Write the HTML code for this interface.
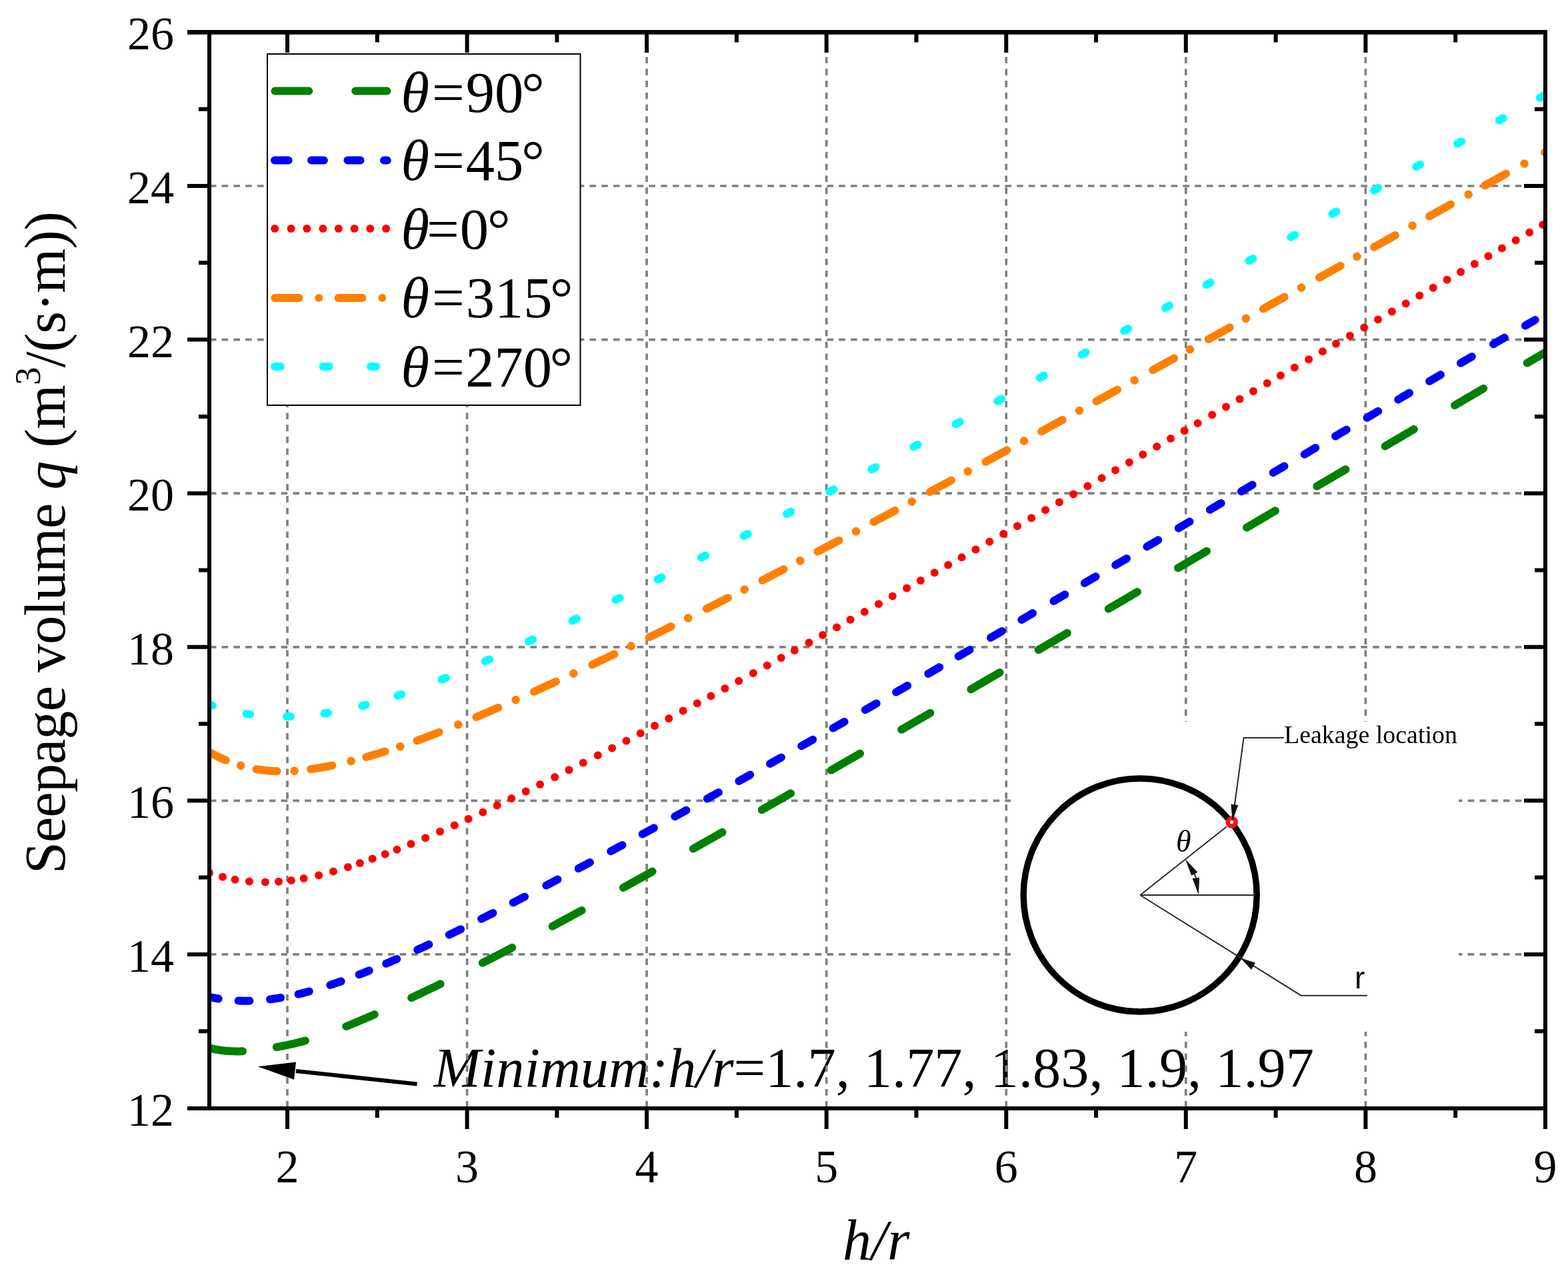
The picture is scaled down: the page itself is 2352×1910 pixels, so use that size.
<!DOCTYPE html>
<html><head><meta charset="utf-8"><title>Seepage volume vs h/r</title>
<style>html,body{margin:0;padding:0;background:#fff;}svg{display:block;}</style>
</head><body>
<svg width="2352" height="1910" viewBox="0 0 2352 1910">
<defs><clipPath id="plotclip"><rect x="314.0" y="48.4" width="2004.0" height="1614.6"/></clipPath></defs>
<rect width="2352" height="1910" fill="#fff"/>
<text x="650.5" y="1630.5" font-family="Liberation Serif, serif" font-size="84.4"><tspan font-style="italic">Minimum:h/r</tspan>=1.7, 1.77, 1.83, 1.9, 1.97</text>
<g stroke="#808080" stroke-width="3.7" stroke-dasharray="9.6 8.2" stroke-dashoffset="-1.5"><line x1="431.0" y1="1663.0" x2="431.0" y2="48.4"/><line x1="700.6" y1="1663.0" x2="700.6" y2="48.4"/><line x1="970.1" y1="1663.0" x2="970.1" y2="48.4"/><line x1="1239.7" y1="1663.0" x2="1239.7" y2="48.4"/><line x1="1509.3" y1="1663.0" x2="1509.3" y2="48.4"/><line x1="1778.8" y1="1663.0" x2="1778.8" y2="48.4"/><line x1="2048.4" y1="1663.0" x2="2048.4" y2="48.4"/></g>
<g stroke="#808080" stroke-width="3.7" stroke-dasharray="9.6 8.2" stroke-dashoffset="0"><line x1="2318.0" y1="1431.9" x2="314.0" y2="1431.9"/><line x1="2318.0" y1="1201.3" x2="314.0" y2="1201.3"/><line x1="2318.0" y1="970.8" x2="314.0" y2="970.8"/><line x1="2318.0" y1="740.2" x2="314.0" y2="740.2"/><line x1="2318.0" y1="509.6" x2="314.0" y2="509.6"/><line x1="2318.0" y1="279.0" x2="314.0" y2="279.0"/></g>
<path d="M625.5 1626.5 L444 1607" stroke="#000" stroke-width="6" fill="none"/><path d="M386.8 1600.3 L444 1593.6 L441 1619.8 Z" fill="#000"/>
<rect x="401" y="81" width="469.5" height="527" fill="#fff" stroke="#000" stroke-width="2"/><g stroke-linecap="round" fill="none" stroke-width="12.0"><path stroke="#008000" d="M412.5 136.6 H463.2 M533.2 136.6 H580.4"/><path stroke="#0000ff" d="M412 240.4 H432.6 M467 240.4 H485.9 M521.5 240.4 H540.5 M576 240.4 H580.7"/><path stroke="#ff8000" d="M412.3 447.0 H448.5 M478.3 447.0 h0.01 M507.6 447.0 H543.5 M573.3 447.0 h0.01"/><path stroke="#00ffff" d="M412 549.9 H420.8 M484.5 549.9 H493.4 M556 549.9 H564.2"/></g><circle cx="412.2" cy="343.0" r="6" fill="#ff0000"/><circle cx="436.6" cy="343.0" r="6" fill="#ff0000"/><circle cx="460.3" cy="343.0" r="6" fill="#ff0000"/><circle cx="484.4" cy="343.0" r="6" fill="#ff0000"/><circle cx="507.8" cy="343.0" r="6" fill="#ff0000"/><circle cx="531.6" cy="343.0" r="6" fill="#ff0000"/><circle cx="555.3" cy="343.0" r="6" fill="#ff0000"/><circle cx="579.1" cy="343.0" r="6" fill="#ff0000"/><text x="601.5" y="168.2" font-family="Liberation Serif, serif" font-size="86.5"><tspan font-style="italic">θ</tspan><tspan dx="4.0">=</tspan><tspan dx="2.0">90</tspan><tspan dx="-3.0">°</tspan></text><text x="601.5" y="270.2" font-family="Liberation Serif, serif" font-size="86.5"><tspan font-style="italic">θ</tspan><tspan dx="4.0">=</tspan><tspan dx="2.0">45</tspan><tspan dx="-3.0">°</tspan></text><text x="601.5" y="373.4" font-family="Liberation Serif, serif" font-size="86.5"><tspan font-style="italic">θ</tspan><tspan dx="-4.0">=</tspan><tspan dx="1.0">0</tspan><tspan dx="-2.0">°</tspan></text><text x="601.5" y="476.4" font-family="Liberation Serif, serif" font-size="86.5"><tspan font-style="italic">θ</tspan><tspan dx="4.0">=</tspan><tspan dx="2.0">315</tspan><tspan dx="-3.5">°</tspan></text><text x="601.5" y="580.0" font-family="Liberation Serif, serif" font-size="86.5"><tspan font-style="italic">θ</tspan><tspan dx="4.0">=</tspan><tspan dx="1.5">270</tspan><tspan dx="-3.5">°</tspan></text>
<rect x="1516" y="1083" width="672" height="465" fill="#fff"/><circle cx="1710.2" cy="1343.0" r="175" fill="none" stroke="#000" stroke-width="9.5"/><g stroke="#2a2a2a" stroke-width="2.0" fill="none"><path d="M1710.2 1343.0 H1882"/><path d="M1710.2 1343.0 L1840 1240.2"/><path d="M1710.2 1343.0 L1951.6 1493.7 H2050.8"/><path d="M1925.7 1106.9 H1865.6 L1851.9 1208"/><path d="M1791.8 1311.2 L1793.9 1317.2"/></g><path d="M1860.9 1437.6 L1877 1455 L1883 1444.5 Z" fill="#111"/><path d="M1778 1289 L1796.4 1308.7 L1787.2 1313.8 Z" fill="#111"/><path d="M1797.8 1342.5 L1788.6 1317.9 L1799.2 1316.5 Z" fill="#111"/><circle cx="1847.7" cy="1233.6" r="6.0" fill="#eeeeee" stroke="#ff1010" stroke-width="6.5"/><path d="M1848.5 1232 L1846.45 1206.45 L1857.35 1207.95 Z" fill="#111"/><text x="1926" y="1115" font-family="Liberation Serif, serif" font-size="37.9">Leakage location</text><text x="1764" y="1278" font-family="Liberation Serif, serif" font-size="46" font-style="italic">θ</text><text x="2032" y="1483.4" font-family="Liberation Sans, sans-serif" font-size="46">r</text>
<g fill="none" stroke="#008000" stroke-width="12.0" stroke-linecap="round" stroke-linejoin="round" clip-path="url(#plotclip)"><path d="M314.4 1572.5L314.7 1572.6L316.8 1573.1L318.8 1573.5L320.8 1574.0L322.8 1574.4L324.9 1574.8L326.9 1575.1L328.9 1575.4L331.0 1575.7L333.0 1576.0L335.0 1576.2L337.1 1576.5L339.1 1576.7L341.1 1576.8L343.1 1577.0L345.2 1577.1L347.2 1577.2L349.2 1577.3L351.3 1577.3L353.3 1577.4L355.3 1577.4L357.4 1577.4L359.4 1577.4L361.4 1577.3L363.5 1577.3L364.0 1577.3"/><path d="M414.8 1571.1L415.2 1571.0L417.3 1570.6L419.3 1570.3L421.3 1569.9L423.4 1569.5L425.4 1569.1L427.4 1568.7L429.4 1568.3L431.5 1567.8L433.5 1567.4L435.5 1567.0L437.6 1566.5L439.6 1566.1L441.6 1565.6L443.7 1565.1L445.7 1564.6L447.7 1564.2L449.7 1563.6L451.8 1563.1L453.8 1562.6L455.8 1562.1L457.9 1561.5L457.9 1561.5"/><path d="M519.2 1540.1L519.3 1540.0L521.3 1539.2L523.4 1538.4L525.4 1537.5L527.4 1536.7L529.4 1535.9L531.5 1535.0L533.5 1534.2L535.5 1533.3L537.6 1532.5L539.6 1531.6L541.6 1530.7L543.7 1529.9L545.7 1529.0L547.7 1528.1L549.8 1527.3L551.8 1526.4L553.8 1525.5L555.8 1524.6L557.9 1523.8L559.9 1522.9L561.7 1522.1"/><path d="M617.1 1497.1L617.3 1497.0L619.3 1496.0L621.3 1495.1L623.4 1494.1L625.4 1493.2L627.4 1492.2L629.4 1491.3L631.5 1490.3L633.5 1489.3L635.5 1488.4L637.6 1487.4L639.6 1486.4L641.6 1485.5L643.7 1484.5L645.7 1483.5L647.7 1482.5L649.8 1481.6L651.8 1480.6L653.8 1479.6L655.8 1478.6L657.9 1477.6L659.9 1476.7L660.6 1476.3"/><path d="M723.8 1444.8L723.9 1444.7L725.9 1443.7L727.9 1442.7L730.0 1441.6L732.0 1440.6L734.0 1439.5L736.1 1438.5L738.1 1437.5L740.1 1436.4L742.1 1435.4L744.2 1434.3L746.2 1433.3L748.2 1432.2L750.3 1431.2L752.3 1430.1L754.3 1429.1L756.4 1428.0L758.4 1426.9L760.4 1425.9L762.4 1424.8L764.5 1423.8L766.5 1422.7L768.2 1421.8"/><path d="M828.6 1389.8L828.9 1389.6L831.0 1388.5L833.0 1387.4L835.0 1386.3L837.1 1385.2L839.1 1384.1L841.1 1383.0L843.2 1381.9L845.2 1380.8L847.2 1379.7L849.3 1378.6L851.3 1377.5L853.3 1376.4L855.3 1375.3L857.4 1374.2L859.4 1373.1L861.4 1372.0L863.5 1370.9L865.5 1369.8L867.5 1368.7L869.6 1367.6L871.6 1366.5L872.6 1366.0"/><path d="M934.8 1331.9L935.0 1331.8L937.1 1330.6L939.1 1329.5L941.1 1328.4L943.2 1327.3L945.2 1326.2L947.2 1325.0L949.3 1323.9L951.3 1322.8L953.3 1321.7L955.3 1320.5L957.4 1319.4L959.4 1318.3L961.4 1317.2L963.5 1316.0L965.5 1314.9L967.5 1313.8L969.6 1312.6L971.6 1311.5L973.6 1310.4L975.7 1309.3L977.7 1308.1L978.6 1307.6"/><path d="M1039.8 1273.4L1040.1 1273.2L1042.2 1272.1L1044.2 1270.9L1046.2 1269.8L1048.2 1268.6L1050.3 1267.5L1052.3 1266.3L1054.3 1265.2L1056.4 1264.1L1058.4 1262.9L1060.4 1261.8L1062.5 1260.6L1064.5 1259.5L1066.5 1258.3L1068.5 1257.2L1070.6 1256.0L1072.6 1254.9L1074.6 1253.7L1076.7 1252.6L1078.7 1251.4L1080.7 1250.3L1082.8 1249.1L1083.4 1248.8"/><path d="M1142.7 1215.1L1143.2 1214.8L1145.2 1213.7L1147.2 1212.5L1149.3 1211.4L1151.3 1210.2L1153.3 1209.1L1155.4 1207.9L1157.4 1206.7L1159.4 1205.6L1161.4 1204.4L1163.5 1203.3L1165.5 1202.1L1167.5 1200.9L1169.6 1199.8L1171.6 1198.6L1173.6 1197.5L1175.7 1196.3L1177.7 1195.1L1179.7 1194.0L1181.7 1192.8L1183.8 1191.7L1185.8 1190.5L1186.1 1190.3"/><path d="M1246.7 1155.6L1247.2 1155.3L1249.3 1154.1L1251.3 1153.0L1253.3 1151.8L1255.4 1150.6L1257.4 1149.5L1259.4 1148.3L1261.4 1147.1L1263.5 1145.9L1265.5 1144.8L1267.5 1143.6L1269.6 1142.4L1271.6 1141.3L1273.6 1140.1L1275.7 1138.9L1277.7 1137.8L1279.7 1136.6L1281.8 1135.4L1283.8 1134.3L1285.8 1133.1L1287.8 1131.9L1289.9 1130.7L1290.1 1130.6"/><path d="M1352.2 1094.8L1352.3 1094.7L1354.3 1093.5L1356.4 1092.3L1358.4 1091.1L1360.4 1090.0L1362.5 1088.8L1364.5 1087.6L1366.5 1086.4L1368.6 1085.3L1370.6 1084.1L1372.6 1082.9L1374.6 1081.7L1376.7 1080.6L1378.7 1079.4L1380.7 1078.2L1382.8 1077.0L1384.8 1075.8L1386.8 1074.7L1388.9 1073.5L1390.9 1072.3L1392.9 1071.1L1395.0 1070.0L1395.4 1069.7"/><path d="M1456.4 1034.2L1456.9 1033.9L1458.9 1032.8L1460.9 1031.6L1463.0 1030.4L1465.0 1029.2L1467.0 1028.0L1469.1 1026.8L1471.1 1025.7L1473.1 1024.5L1475.2 1023.3L1477.2 1022.1L1479.2 1020.9L1481.2 1019.7L1483.3 1018.6L1485.3 1017.4L1487.3 1016.2L1489.4 1015.0L1491.4 1013.8L1493.4 1012.6L1495.5 1011.5L1497.5 1010.3L1499.5 1009.1L1499.6 1009.0"/><path d="M1557.7 975.1L1557.9 975.0L1559.9 973.8L1562.0 972.6L1564.0 971.4L1566.0 970.2L1568.1 969.0L1570.1 967.8L1572.1 966.7L1574.1 965.5L1576.2 964.3L1578.2 963.1L1580.2 961.9L1582.3 960.7L1584.3 959.5L1586.3 958.3L1588.4 957.1L1590.4 956.0L1592.4 954.8L1594.4 953.6L1596.5 952.4L1598.5 951.2L1600.5 950.0L1600.9 949.8"/><path d="M1662.8 913.5L1663.0 913.4L1665.0 912.2L1667.0 911.0L1669.1 909.8L1671.1 908.6L1673.1 907.4L1675.2 906.2L1677.2 905.0L1679.2 903.8L1681.3 902.7L1683.3 901.5L1685.3 900.3L1687.3 899.1L1689.4 897.9L1691.4 896.7L1693.4 895.5L1695.5 894.3L1697.5 893.1L1699.5 891.9L1701.6 890.7L1703.6 889.5L1705.6 888.3L1706.0 888.1"/><path d="M1767.0 852.3L1767.0 852.2L1769.1 851.0L1771.1 849.8L1773.1 848.6L1775.2 847.4L1777.2 846.3L1779.2 845.1L1781.3 843.9L1783.3 842.7L1785.3 841.5L1787.3 840.3L1789.4 839.1L1791.4 837.9L1793.4 836.7L1795.5 835.5L1797.5 834.3L1799.5 833.1L1801.6 831.9L1803.6 830.7L1805.6 829.5L1807.7 828.3L1809.7 827.1L1810.0 826.9"/><path d="M1870.0 791.6L1870.1 791.6L1872.1 790.4L1874.2 789.2L1876.2 788.0L1878.2 786.8L1880.2 785.6L1882.3 784.4L1884.3 783.2L1886.3 782.0L1888.4 780.8L1890.4 779.6L1892.4 778.4L1894.5 777.2L1896.5 776.0L1898.5 774.8L1900.5 773.6L1902.6 772.4L1904.6 771.2L1906.6 770.1L1908.7 768.9L1910.7 767.7L1912.7 766.5L1913.0 766.3"/><path d="M1975.4 729.6L1975.7 729.4L1977.7 728.2L1979.7 727.0L1981.8 725.8L1983.8 724.6L1985.8 723.4L1987.9 722.2L1989.9 721.0L1991.9 719.8L1994.0 718.7L1996.0 717.5L1998.0 716.3L2000.0 715.1L2002.1 713.9L2004.1 712.7L2006.1 711.5L2008.2 710.3L2010.2 709.1L2012.2 707.9L2014.3 706.7L2016.3 705.5L2018.3 704.3L2018.4 704.2"/><path d="M2077.6 669.4L2077.7 669.4L2079.7 668.2L2081.8 667.0L2083.8 665.8L2085.8 664.6L2087.9 663.4L2089.9 662.2L2091.9 661.1L2094.0 659.9L2096.0 658.7L2098.0 657.5L2100.0 656.3L2102.1 655.1L2104.1 653.9L2106.1 652.7L2108.2 651.5L2110.2 650.3L2112.2 649.1L2114.3 647.9L2116.3 646.7L2118.3 645.6L2120.4 644.4L2120.8 644.1"/><path d="M2182.0 608.2L2182.3 608.0L2184.3 606.9L2186.3 605.7L2188.4 604.5L2190.4 603.3L2192.4 602.1L2194.5 600.9L2196.5 599.7L2198.5 598.5L2200.6 597.3L2202.6 596.1L2204.6 595.0L2206.6 593.8L2208.7 592.6L2210.7 591.4L2212.7 590.2L2214.8 589.0L2216.8 587.8L2218.8 586.6L2220.9 585.5L2222.9 584.3L2224.9 583.1L2225.2 582.9"/><path d="M2290.7 544.6L2290.9 544.5L2292.9 543.3L2295.0 542.2L2297.0 541.0L2299.0 539.8L2301.1 538.6L2303.1 537.4L2305.1 536.2L2307.2 535.1L2309.2 533.9L2311.2 532.7L2313.2 531.5L2315.3 530.3L2317.3 529.1L2319.3 528.0L2321.4 526.8L2323.4 525.6L2325.3 524.5"/></g>
<g fill="none" stroke="#0000ff" stroke-width="12.0" stroke-linecap="round" stroke-linejoin="round" clip-path="url(#plotclip)"><path d="M300.0 1492.1L300.0 1492.1L302.0 1492.7L304.1 1493.3L306.1 1493.8L307.5 1494.2"/><path d="M312.4 1495.4L312.7 1495.5L314.7 1496.0L316.8 1496.4L318.8 1496.8L320.8 1497.2L322.8 1497.6L324.9 1498.0L326.9 1498.4L327.7 1498.5"/><path d="M357.6 1501.5L357.9 1501.5L359.9 1501.6L361.9 1501.7L364.0 1501.7L366.0 1501.7L368.0 1501.7L370.1 1501.7L372.1 1501.7L374.1 1501.7L374.4 1501.6"/><path d="M404.9 1499.4L405.1 1499.3L407.1 1499.1L409.1 1498.8L411.2 1498.5L413.2 1498.2L415.2 1497.9L417.3 1497.6L419.3 1497.3L421.1 1497.0"/><path d="M447.4 1491.6L447.7 1491.5L449.7 1491.1L451.8 1490.6L453.8 1490.1L455.8 1489.6L457.9 1489.0L459.9 1488.5L461.9 1488.0L463.8 1487.5"/><path d="M495.3 1477.9L495.4 1477.9L497.5 1477.2L499.5 1476.5L501.5 1475.8L503.6 1475.1L505.6 1474.4L507.6 1473.7L509.6 1473.0L511.6 1472.3"/><path d="M538.6 1462.3L539.1 1462.1L541.1 1461.3L543.2 1460.5L545.2 1459.7L547.2 1458.9L549.2 1458.1L551.3 1457.3L553.3 1456.5L553.7 1456.3"/><path d="M579.2 1445.8L579.2 1445.8L581.2 1444.9L583.3 1444.0L585.3 1443.2L587.3 1442.3L589.3 1441.4L591.4 1440.6L593.4 1439.7L595.2 1438.9"/><path d="M626.2 1425.0L626.4 1424.9L628.4 1424.0L630.5 1423.1L632.5 1422.1L634.5 1421.2L636.6 1420.3L638.6 1419.3L640.6 1418.4L642.6 1417.4L643.4 1417.1"/><path d="M673.7 1402.6L674.1 1402.4L676.2 1401.4L678.2 1400.5L680.2 1399.5L682.2 1398.5L684.3 1397.5L686.3 1396.5L688.3 1395.5L690.4 1394.5L691.1 1394.2"/><path d="M722.1 1378.7L722.3 1378.6L724.4 1377.5L726.4 1376.5L728.4 1375.5L730.5 1374.5L732.5 1373.4L734.5 1372.4L736.6 1371.4L738.6 1370.3L739.5 1369.9"/><path d="M769.7 1354.3L770.1 1354.2L772.1 1353.1L774.1 1352.1L776.2 1351.0L778.2 1350.0L780.2 1348.9L782.2 1347.9L784.3 1346.8L786.3 1345.8L787.1 1345.4"/><path d="M819.3 1328.6L819.3 1328.6L821.3 1327.5L823.4 1326.4L825.4 1325.4L827.4 1324.3L829.5 1323.2L831.5 1322.2L833.5 1321.1L835.5 1320.0L836.5 1319.5"/><path d="M867.7 1303.1L868.0 1302.9L870.1 1301.8L872.1 1300.7L874.1 1299.6L876.2 1298.6L878.2 1297.5L880.2 1296.4L882.2 1295.3L884.3 1294.2L884.9 1293.9"/><path d="M916.2 1277.2L916.3 1277.1L918.3 1276.1L920.3 1275.0L922.4 1273.9L924.4 1272.8L926.4 1271.7L928.4 1270.6L930.5 1269.5L932.5 1268.4L933.4 1267.9"/><path d="M963.7 1251.5L964.0 1251.4L966.0 1250.3L968.0 1249.2L970.1 1248.1L972.1 1247.0L974.1 1245.9L976.2 1244.8L978.2 1243.7L980.2 1242.6L980.9 1242.2"/><path d="M1012.3 1225.1L1012.7 1224.8L1014.7 1223.7L1016.8 1222.6L1018.8 1221.5L1020.8 1220.4L1022.9 1219.3L1024.9 1218.2L1026.9 1217.0L1029.0 1215.9L1029.3 1215.7"/><path d="M1060.8 1198.4L1060.9 1198.3L1063.0 1197.2L1065.0 1196.1L1067.0 1194.9L1069.1 1193.8L1071.1 1192.7L1073.1 1191.6L1075.1 1190.4L1077.2 1189.3L1077.8 1189.0"/><path d="M1108.3 1172.0L1108.6 1171.8L1110.7 1170.7L1112.7 1169.6L1114.7 1168.4L1116.8 1167.3L1118.8 1166.2L1120.8 1165.0L1122.9 1163.9L1124.9 1162.8L1125.3 1162.5"/><path d="M1155.0 1145.9L1155.4 1145.7L1157.4 1144.6L1159.4 1143.4L1161.4 1142.3L1163.5 1141.2L1165.5 1140.0L1167.5 1138.9L1169.6 1137.7L1171.6 1136.6L1172.0 1136.4"/><path d="M1202.2 1119.3L1202.6 1119.1L1204.6 1118.0L1206.6 1116.8L1208.7 1115.7L1210.7 1114.6L1212.7 1113.4L1214.7 1112.3L1216.8 1111.1L1218.8 1110.0L1219.2 1109.7"/><path d="M1249.6 1092.5L1249.8 1092.4L1251.8 1091.3L1253.8 1090.1L1255.9 1088.9L1257.9 1087.8L1259.9 1086.6L1262.0 1085.5L1264.0 1084.3L1266.0 1083.2L1266.6 1082.9"/><path d="M1297.8 1065.0L1298.0 1064.9L1300.0 1063.8L1302.1 1062.6L1304.1 1061.5L1306.1 1060.3L1308.1 1059.2L1310.2 1058.0L1312.2 1056.8L1314.2 1055.7L1314.8 1055.4"/><path d="M1344.1 1038.6L1344.2 1038.5L1346.2 1037.4L1348.2 1036.2L1350.3 1035.0L1352.3 1033.9L1354.3 1032.7L1356.4 1031.5L1358.4 1030.4L1360.4 1029.2L1361.1 1028.8"/><path d="M1392.4 1010.9L1392.4 1010.8L1394.4 1009.7L1396.5 1008.5L1398.5 1007.3L1400.5 1006.1L1402.6 1005.0L1404.6 1003.8L1406.6 1002.6L1408.7 1001.5L1409.2 1001.1"/><path d="M1437.7 984.7L1438.1 984.5L1440.1 983.3L1442.2 982.1L1444.2 981.0L1446.2 979.8L1448.3 978.6L1450.3 977.4L1452.3 976.3L1454.3 975.1L1454.5 975.0"/><path d="M1486.0 956.8L1486.3 956.6L1488.4 955.4L1490.4 954.2L1492.4 953.1L1494.4 951.9L1496.5 950.7L1498.5 949.5L1500.5 948.3L1502.6 947.2L1502.8 947.0"/><path d="M1532.3 929.9L1532.5 929.8L1534.5 928.6L1536.6 927.4L1538.6 926.2L1540.6 925.1L1542.7 923.9L1544.7 922.7L1546.7 921.5L1548.8 920.3L1549.1 920.1"/><path d="M1580.5 901.9L1580.7 901.7L1582.8 900.5L1584.8 899.4L1586.8 898.2L1588.9 897.0L1590.9 895.8L1592.9 894.6L1595.0 893.4L1597.0 892.3L1597.3 892.1"/><path d="M1626.8 874.9L1626.9 874.8L1629.0 873.6L1631.0 872.4L1633.0 871.2L1635.1 870.1L1637.1 868.9L1639.1 867.7L1641.2 866.5L1643.2 865.3L1643.6 865.1"/><path d="M1673.2 847.8L1673.6 847.5L1675.7 846.3L1677.7 845.1L1679.7 844.0L1681.8 842.8L1683.8 841.6L1685.8 840.4L1687.9 839.2L1689.9 838.0L1690.0 837.9"/><path d="M1720.4 820.2L1720.8 819.9L1722.9 818.7L1724.9 817.5L1726.9 816.3L1729.0 815.1L1731.0 814.0L1733.0 812.8L1735.1 811.6L1737.1 810.4L1737.2 810.3"/><path d="M1767.7 792.5L1768.1 792.2L1770.1 791.1L1772.1 789.9L1774.1 788.7L1776.2 787.5L1778.2 786.3L1780.2 785.1L1782.3 783.9L1784.3 782.7L1784.5 782.6"/><path d="M1814.9 764.8L1815.3 764.6L1817.3 763.4L1819.3 762.2L1821.4 761.0L1823.4 759.8L1825.4 758.6L1827.4 757.4L1829.5 756.2L1831.5 755.1L1831.7 754.9"/><path d="M1861.8 737.3L1862.0 737.2L1864.0 736.0L1866.0 734.8L1868.1 733.6L1870.1 732.4L1872.1 731.2L1874.2 730.1L1876.2 728.9L1878.2 727.7L1878.6 727.4"/><path d="M1909.7 709.2L1910.2 708.9L1912.2 707.7L1914.3 706.5L1916.3 705.3L1918.3 704.2L1920.3 703.0L1922.4 701.8L1924.4 700.6L1926.4 699.4L1926.5 699.4"/><path d="M1956.6 681.7L1956.9 681.5L1958.9 680.4L1961.0 679.2L1963.0 678.0L1965.0 676.8L1967.0 675.6L1969.1 674.4L1971.1 673.2L1973.1 672.0L1973.4 671.9"/><path d="M2003.0 654.5L2003.1 654.5L2005.1 653.3L2007.1 652.1L2009.2 650.9L2011.2 649.7L2013.2 648.5L2015.3 647.3L2017.3 646.2L2019.3 645.0L2019.8 644.7"/><path d="M2050.4 626.8L2050.8 626.6L2052.8 625.4L2054.9 624.2L2056.9 623.0L2058.9 621.8L2061.0 620.6L2063.0 619.4L2065.0 618.2L2067.0 617.1L2067.2 617.0"/><path d="M2097.2 599.5L2097.5 599.3L2099.5 598.1L2101.6 596.9L2103.6 595.7L2105.6 594.5L2107.7 593.3L2109.7 592.2L2111.7 591.0L2113.8 589.8L2114.0 589.6"/><path d="M2144.1 572.1L2144.2 572.0L2146.2 570.8L2148.3 569.7L2150.3 568.5L2152.3 567.3L2154.4 566.1L2156.4 564.9L2158.4 563.7L2160.5 562.6L2160.9 562.3"/><path d="M2191.0 544.8L2191.4 544.5L2193.4 543.4L2195.5 542.2L2197.5 541.0L2199.5 539.8L2201.6 538.6L2203.6 537.5L2205.6 536.3L2207.7 535.1L2207.8 535.0"/><path d="M2240.0 516.4L2240.2 516.3L2242.2 515.1L2244.2 513.9L2246.2 512.7L2248.3 511.5L2250.3 510.4L2252.3 509.2L2254.4 508.0L2256.4 506.8L2256.8 506.6"/><path d="M2287.9 488.6L2288.4 488.3L2290.4 487.2L2292.4 486.0L2294.5 484.8L2296.5 483.6L2298.5 482.5L2300.6 481.3L2302.6 480.1L2302.7 480.1"/><path d="M2323.2 468.2L2323.4 468.1L2325.4 467.0L2327.5 465.8L2329.5 464.6L2330.0 464.3"/></g>
<g fill="#ff0000" clip-path="url(#plotclip)"><circle cx="274.0" cy="1291.2" r="6.00"/><circle cx="294.0" cy="1301.5" r="6.00"/><circle cx="314.0" cy="1309.6" r="6.00"/><circle cx="334.0" cy="1315.8" r="6.00"/><circle cx="352.5" cy="1319.8" r="6.00"/><circle cx="373.9" cy="1322.6" r="6.00"/><circle cx="397.9" cy="1323.6" r="6.00"/><circle cx="418.0" cy="1322.8" r="6.00"/><circle cx="436.9" cy="1320.9" r="6.00"/><circle cx="455.6" cy="1318.0" r="6.00"/><circle cx="478.1" cy="1313.3" r="6.00"/><circle cx="500.0" cy="1307.6" r="6.00"/><circle cx="521.9" cy="1301.1" r="6.00"/><circle cx="539.9" cy="1295.1" r="6.00"/><circle cx="558.6" cy="1288.5" r="6.00"/><circle cx="577.7" cy="1281.5" r="6.00"/><circle cx="595.4" cy="1274.7" r="6.00"/><circle cx="616.4" cy="1266.3" r="6.00"/><circle cx="638.1" cy="1257.3" r="6.00"/><circle cx="660.0" cy="1247.8" r="6.00"/><circle cx="681.7" cy="1238.2" r="6.00"/><circle cx="702.6" cy="1228.7" r="6.00"/><circle cx="724.3" cy="1218.7" r="6.00"/><circle cx="745.6" cy="1208.6" r="6.00"/><circle cx="767.2" cy="1198.1" r="6.00"/><circle cx="788.8" cy="1187.6" r="6.00"/><circle cx="810.1" cy="1177.1" r="6.00"/><circle cx="832.2" cy="1166.0" r="6.00"/><circle cx="853.5" cy="1155.3" r="6.00"/><circle cx="874.8" cy="1144.5" r="6.00"/><circle cx="896.8" cy="1133.3" r="6.00"/><circle cx="918.1" cy="1122.4" r="6.00"/><circle cx="939.4" cy="1111.4" r="6.00"/><circle cx="960.7" cy="1100.3" r="6.00"/><circle cx="982.0" cy="1089.1" r="6.00"/><circle cx="1003.3" cy="1077.9" r="6.00"/><circle cx="1024.6" cy="1066.6" r="6.00"/><circle cx="1045.8" cy="1055.3" r="6.00"/><circle cx="1066.4" cy="1044.3" r="6.00"/><circle cx="1087.3" cy="1033.0" r="6.00"/><circle cx="1108.2" cy="1021.7" r="6.00"/><circle cx="1129.9" cy="1009.9" r="6.00"/><circle cx="1150.8" cy="998.6" r="6.00"/><circle cx="1171.7" cy="987.1" r="6.00"/><circle cx="1191.8" cy="976.1" r="6.00"/><circle cx="1213.5" cy="964.2" r="6.00"/><circle cx="1234.1" cy="952.8" r="6.00"/><circle cx="1255.1" cy="941.2" r="6.00"/><circle cx="1275.5" cy="929.8" r="6.00"/><circle cx="1296.8" cy="918.0" r="6.00"/><circle cx="1318.0" cy="906.2" r="6.00"/><circle cx="1338.8" cy="894.6" r="6.00"/><circle cx="1360.1" cy="882.6" r="6.00"/><circle cx="1380.9" cy="871.0" r="6.00"/><circle cx="1401.7" cy="859.3" r="6.00"/><circle cx="1422.2" cy="847.8" r="6.00"/><circle cx="1442.6" cy="836.3" r="6.00"/><circle cx="1463.5" cy="824.5" r="6.00"/><circle cx="1484.3" cy="812.8" r="6.00"/><circle cx="1505.2" cy="801.0" r="6.00"/><circle cx="1526.0" cy="789.2" r="6.00"/><circle cx="1547.2" cy="777.2" r="6.00"/><circle cx="1568.1" cy="765.3" r="6.00"/><circle cx="1588.9" cy="753.5" r="6.00"/><circle cx="1610.1" cy="741.4" r="6.00"/><circle cx="1631.4" cy="729.3" r="6.00"/><circle cx="1652.6" cy="717.2" r="6.00"/><circle cx="1673.0" cy="705.6" r="6.00"/><circle cx="1693.9" cy="693.7" r="6.00"/><circle cx="1714.3" cy="682.0" r="6.00"/><circle cx="1735.2" cy="670.0" r="6.00"/><circle cx="1756.0" cy="658.1" r="6.00"/><circle cx="1776.6" cy="646.3" r="6.00"/><circle cx="1796.6" cy="634.9" r="6.00"/><circle cx="1818.2" cy="622.5" r="6.00"/><circle cx="1839.0" cy="610.5" r="6.00"/><circle cx="1859.5" cy="598.8" r="6.00"/><circle cx="1880.0" cy="587.0" r="6.00"/><circle cx="1900.8" cy="575.0" r="6.00"/><circle cx="1920.9" cy="563.5" r="6.00"/><circle cx="1941.8" cy="551.5" r="6.00"/><circle cx="1963.1" cy="539.2" r="6.00"/><circle cx="1983.9" cy="527.3" r="6.00"/><circle cx="2004.0" cy="515.7" r="6.00"/><circle cx="2024.9" cy="503.7" r="6.00"/><circle cx="2046.2" cy="491.4" r="6.00"/><circle cx="2067.0" cy="479.4" r="6.00"/><circle cx="2087.9" cy="467.4" r="6.00"/><circle cx="2108.8" cy="455.4" r="6.00"/><circle cx="2129.3" cy="443.6" r="6.00"/><circle cx="2149.7" cy="431.8" r="6.00"/><circle cx="2170.6" cy="419.8" r="6.00"/><circle cx="2191.1" cy="408.0" r="6.00"/><circle cx="2211.9" cy="396.0" r="6.00"/><circle cx="2232.4" cy="384.3" r="6.00"/><circle cx="2252.9" cy="372.5" r="6.00"/><circle cx="2273.7" cy="360.5" r="6.00"/><circle cx="2294.2" cy="348.8" r="6.00"/><circle cx="2314.2" cy="337.3" r="6.00"/><circle cx="2334.2" cy="325.8" r="6.00"/><circle cx="2354.2" cy="314.3" r="6.00"/><circle cx="2374.2" cy="302.9" r="6.00"/></g>
<g fill="none" stroke="#ff8000" stroke-width="12.0" stroke-linecap="round" clip-path="url(#plotclip)"><path d="M300.0 1119.8L300.0 1119.8L302.0 1121.2L304.1 1122.5L306.1 1123.7L308.1 1125.0L310.2 1126.2L312.2 1127.4L312.4 1127.5"/><path d="M312.6 1127.7L312.7 1127.7L314.7 1128.9L316.8 1130.0L318.8 1131.1L320.8 1132.2L322.8 1133.2L324.9 1134.3L326.9 1135.3L328.9 1136.3L331.0 1137.2L333.0 1138.2L335.0 1139.1L337.1 1139.9L338.8 1140.7"/><path d="M384.6 1154.0L384.8 1154.1L386.8 1154.4L388.8 1154.7L390.9 1155.0L392.9 1155.3L394.9 1155.6L397.0 1155.8L399.0 1156.0L401.0 1156.2L403.0 1156.4L405.1 1156.6L407.1 1156.7L409.1 1156.8L411.2 1157.0L413.2 1157.0L415.2 1157.1L415.5 1157.1"/><path d="M466.0 1154.1L466.0 1154.1L468.0 1153.8L470.1 1153.5L472.1 1153.2L474.1 1152.9L476.1 1152.5L478.2 1152.2L480.2 1151.9L482.2 1151.5L484.3 1151.1L486.3 1150.8L488.3 1150.4L490.4 1150.0L492.4 1149.6L494.4 1149.2L496.5 1148.8L498.5 1148.4L498.5 1148.4"/><path d="M549.2 1135.9L549.2 1135.9L551.3 1135.3L553.3 1134.7L555.3 1134.1L557.4 1133.5L559.4 1132.9L561.4 1132.3L563.5 1131.7L565.5 1131.1L567.5 1130.5L569.5 1129.9L571.6 1129.3L573.6 1128.7L575.6 1128.0L577.5 1127.4"/><path d="M625.5 1111.2L625.9 1111.0L627.9 1110.3L630.0 1109.6L632.0 1108.8L634.0 1108.1L636.0 1107.3L638.1 1106.6L640.1 1105.8L642.1 1105.0L644.2 1104.3L646.2 1103.5L648.2 1102.7L650.3 1101.9L652.3 1101.2L654.3 1100.4L656.4 1099.6L658.4 1098.8L658.8 1098.6"/><path d="M714.4 1076.0L714.7 1075.8L716.8 1074.9L718.8 1074.1L720.8 1073.2L722.9 1072.3L724.9 1071.5L726.9 1070.6L728.9 1069.7L731.0 1068.8L733.0 1068.0L735.0 1067.1L737.1 1066.2L739.1 1065.3L741.1 1064.4L743.2 1063.5L745.2 1062.7L747.2 1061.8L747.4 1061.7"/><path d="M800.8 1037.8L801.0 1037.7L803.1 1036.8L805.1 1035.9L807.1 1035.0L809.1 1034.0L811.2 1033.1L813.2 1032.2L815.2 1031.2L817.3 1030.3L819.3 1029.4L821.3 1028.5L823.4 1027.5L825.4 1026.6L827.4 1025.7L829.5 1024.7L831.5 1023.8L833.5 1022.9L834.0 1022.6"/><path d="M888.3 997.3L888.3 997.3L890.4 996.3L892.4 995.3L894.4 994.4L896.5 993.4L898.5 992.4L900.5 991.5L902.6 990.5L904.6 989.5L906.6 988.6L908.6 987.6L910.7 986.6L912.7 985.7L914.7 984.7L916.8 983.7L918.8 982.7L920.8 981.8L921.3 981.6"/><path d="M973.9 956.0L974.1 955.9L976.2 954.9L978.2 954.0L980.2 953.0L982.3 952.0L984.3 951.0L986.3 950.0L988.3 949.0L990.4 948.0L992.4 947.0L994.4 946.0L996.5 945.0L998.5 944.0L1000.5 943.0L1002.6 941.9L1004.6 940.9L1006.6 939.9L1006.7 939.9"/><path d="M1059.7 913.4L1059.9 913.3L1061.9 912.3L1064.0 911.3L1066.0 910.2L1068.0 909.2L1070.1 908.2L1072.1 907.2L1074.1 906.1L1076.2 905.1L1078.2 904.1L1080.2 903.0L1082.3 902.0L1084.3 901.0L1086.3 900.0L1088.3 898.9L1090.4 897.9L1092.1 897.0"/><path d="M1143.5 870.7L1143.7 870.6L1145.7 869.6L1147.7 868.5L1149.8 867.5L1151.8 866.4L1153.8 865.4L1155.9 864.3L1157.9 863.3L1159.9 862.2L1162.0 861.2L1164.0 860.1L1166.0 859.1L1168.0 858.0L1170.1 857.0L1172.1 855.9L1174.1 854.8L1175.5 854.1"/><path d="M1226.4 827.5L1226.9 827.3L1229.0 826.2L1231.0 825.2L1233.0 824.1L1235.0 823.0L1237.1 822.0L1239.1 820.9L1241.1 819.8L1243.2 818.8L1245.2 817.7L1247.2 816.6L1249.3 815.6L1251.3 814.5L1253.3 813.4L1255.4 812.3L1257.4 811.3L1258.5 810.7"/><path d="M1310.4 783.2L1310.7 783.0L1312.7 782.0L1314.7 780.9L1316.8 779.8L1318.8 778.7L1320.8 777.6L1322.9 776.6L1324.9 775.5L1326.9 774.4L1329.0 773.3L1331.0 772.2L1333.0 771.2L1335.1 770.1L1337.1 769.0L1339.1 767.9L1341.1 766.8L1342.5 766.1"/><path d="M1394.7 738.1L1395.0 738.0L1397.0 736.9L1399.0 735.8L1401.0 734.7L1403.1 733.6L1405.1 732.5L1407.1 731.4L1409.2 730.3L1411.2 729.3L1413.2 728.2L1415.3 727.1L1417.3 726.0L1419.3 724.9L1421.3 723.8L1423.4 722.7L1425.4 721.6L1426.9 720.8"/><path d="M1478.4 692.9L1478.7 692.8L1480.7 691.6L1482.8 690.5L1484.8 689.4L1486.8 688.3L1488.9 687.2L1490.9 686.1L1492.9 685.0L1495.0 683.9L1497.0 682.8L1499.0 681.7L1501.0 680.6L1503.1 679.5L1505.1 678.4L1507.1 677.3L1509.2 676.2L1510.4 675.5"/><path d="M1562.0 647.4L1562.5 647.1L1564.5 646.0L1566.5 644.9L1568.6 643.8L1570.6 642.7L1572.6 641.6L1574.7 640.4L1576.7 639.3L1578.7 638.2L1580.7 637.1L1582.8 636.0L1584.8 634.9L1586.8 633.8L1588.9 632.7L1590.9 631.5L1592.9 630.4L1593.8 630.0"/><path d="M1644.5 602.1L1644.7 602.0L1646.7 600.9L1648.8 599.7L1650.8 598.6L1652.8 597.5L1654.9 596.4L1656.9 595.3L1658.9 594.1L1660.9 593.0L1663.0 591.9L1665.0 590.8L1667.0 589.7L1669.1 588.5L1671.1 587.4L1673.1 586.3L1675.2 585.2L1676.1 584.7"/><path d="M1729.2 555.3L1729.5 555.2L1731.5 554.0L1733.5 552.9L1735.6 551.8L1737.6 550.7L1739.6 549.5L1741.7 548.4L1743.7 547.3L1745.7 546.2L1747.8 545.0L1749.8 543.9L1751.8 542.8L1753.8 541.7L1755.9 540.5L1757.9 539.4L1759.9 538.3L1761.2 537.6"/><path d="M1812.6 509.0L1812.7 509.0L1814.8 507.9L1816.8 506.7L1818.8 505.6L1820.9 504.5L1822.9 503.4L1824.9 502.2L1826.9 501.1L1829.0 500.0L1831.0 498.8L1833.0 497.7L1835.1 496.6L1837.1 495.5L1839.1 494.3L1841.2 493.2L1843.2 492.1L1844.6 491.3"/><path d="M1894.8 463.4L1895.0 463.3L1897.0 462.1L1899.0 461.0L1901.1 459.9L1903.1 458.7L1905.1 457.6L1907.1 456.5L1909.2 455.3L1911.2 454.2L1913.2 453.1L1915.3 451.9L1917.3 450.8L1919.3 449.7L1921.4 448.6L1923.4 447.4L1925.4 446.3L1926.6 445.6"/><path d="M1978.9 416.5L1979.2 416.3L1981.3 415.2L1983.3 414.0L1985.3 412.9L1987.4 411.8L1989.4 410.6L1991.4 409.5L1993.4 408.4L1995.5 407.3L1997.5 406.1L1999.5 405.0L2001.6 403.9L2003.6 402.7L2005.6 401.6L2007.7 400.5L2009.7 399.3L2010.7 398.7"/><path d="M2061.0 370.7L2061.5 370.5L2063.5 369.3L2065.5 368.2L2067.6 367.1L2069.6 365.9L2071.6 364.8L2073.6 363.7L2075.7 362.6L2077.7 361.4L2079.7 360.3L2081.8 359.2L2083.8 358.0L2085.8 356.9L2087.9 355.8L2089.9 354.6L2091.9 353.5L2092.8 353.0"/><path d="M2144.1 324.5L2144.2 324.4L2146.2 323.3L2148.3 322.1L2150.3 321.0L2152.3 319.9L2154.4 318.7L2156.4 317.6L2158.4 316.5L2160.5 315.4L2162.5 314.2L2164.5 313.1L2166.5 312.0L2168.6 310.8L2170.6 309.7L2172.6 308.6L2174.7 307.5L2176.0 306.7"/><path d="M2227.1 278.3L2227.5 278.2L2229.5 277.0L2231.5 275.9L2233.6 274.8L2235.6 273.6L2237.6 272.5L2239.6 271.4L2241.7 270.3L2243.7 269.1L2245.7 268.0L2247.8 266.9L2249.8 265.8L2251.8 264.6L2253.9 263.5L2255.9 262.4L2257.9 261.3L2259.1 260.6"/><path d="M2317.1 228.5L2317.3 228.4L2319.3 227.3L2321.4 226.2L2323.4 225.1L2325.4 224.0L2327.5 222.8L2329.5 221.7L2330.0 221.4"/></g><g fill="#ff8000" clip-path="url(#plotclip)"><circle cx="289.9" cy="1112.8" r="6.30"/><circle cx="361.1" cy="1148.6" r="6.30"/><circle cx="441.6" cy="1156.6" r="6.30"/><circle cx="526.5" cy="1141.9" r="6.30"/><circle cx="600.3" cy="1120.0" r="6.30"/><circle cx="687.3" cy="1087.3" r="6.30"/><circle cx="773.6" cy="1050.1" r="6.30"/><circle cx="860.3" cy="1010.4" r="6.30"/><circle cx="946.6" cy="969.4" r="6.30"/><circle cx="1032.2" cy="927.2" r="6.30"/><circle cx="1116.6" cy="884.5" r="6.30"/><circle cx="1200.2" cy="841.3" r="6.30"/><circle cx="1284.0" cy="797.2" r="6.30"/><circle cx="1367.8" cy="752.6" r="6.30"/><circle cx="1451.9" cy="707.3" r="6.30"/><circle cx="1536.0" cy="661.6" r="6.30"/><circle cx="1619.0" cy="616.1" r="6.30"/><circle cx="1701.6" cy="570.6" r="6.30"/><circle cx="1785.0" cy="524.4" r="6.30"/><circle cx="1868.9" cy="477.8" r="6.30"/><circle cx="1952.0" cy="431.5" r="6.30"/><circle cx="2035.5" cy="384.9" r="6.30"/><circle cx="2118.6" cy="338.6" r="6.30"/><circle cx="2202.6" cy="291.9" r="6.30"/><circle cx="2286.5" cy="245.5" r="6.30"/><circle cx="2373.3" cy="197.6" r="6.30"/></g>
<g fill="none" stroke="#00ffff" stroke-width="12.0" stroke-linecap="round" stroke-linejoin="round" clip-path="url(#plotclip)"><path d="M300.0 1051.7L300.0 1051.7L302.0 1052.5L302.6 1052.8"/><path d="M313.4 1056.8L313.7 1056.9L315.7 1057.6L317.8 1058.3L318.7 1058.6"/><path d="M369.4 1071.0L369.5 1071.0L371.6 1071.3L373.6 1071.6L375.2 1071.8"/><path d="M430.1 1075.2L430.5 1075.2L432.5 1075.1L434.5 1075.1L435.9 1075.0"/><path d="M486.5 1070.5L486.8 1070.4L488.8 1070.1L490.9 1069.8L492.1 1069.6"/><path d="M543.3 1059.0L543.7 1058.9L545.7 1058.4L547.7 1057.9L548.7 1057.6"/><path d="M596.3 1043.7L596.5 1043.6L598.5 1042.9L600.5 1042.3L602.1 1041.7"/><path d="M662.4 1019.6L662.4 1019.6L664.5 1018.8L666.5 1018.0L668.5 1017.2L668.8 1017.1"/><path d="M727.6 992.1L727.9 992.0L730.0 991.1L732.0 990.2L734.0 989.3"/><path d="M792.7 962.4L792.9 962.3L794.9 961.3L797.0 960.4L799.0 959.4L799.1 959.4"/><path d="M858.6 931.3L858.9 931.2L860.9 930.2L863.0 929.2L865.0 928.3"/><path d="M923.4 900.1L923.9 899.9L925.9 898.9L927.9 897.9L929.6 897.1"/><path d="M986.5 869.2L986.8 869.1L988.8 868.0L990.9 867.0L992.7 866.1"/><path d="M1051.9 836.6L1052.3 836.4L1054.3 835.4L1056.4 834.3L1058.1 833.5"/><path d="M1115.7 804.2L1115.8 804.2L1117.8 803.2L1119.8 802.1L1121.8 801.1L1121.9 801.1"/><path d="M1180.0 771.1L1180.2 771.0L1182.3 770.0L1184.3 768.9L1186.2 767.9"/><path d="M1244.3 737.6L1244.7 737.3L1246.7 736.3L1248.8 735.2L1250.5 734.3"/><path d="M1307.2 704.3L1307.6 704.0L1309.7 703.0L1311.7 701.9L1313.4 701.0"/><path d="M1370.5 670.3L1370.6 670.3L1372.6 669.2L1374.6 668.1L1376.7 667.0"/><path d="M1433.4 636.3L1433.5 636.2L1435.6 635.1L1437.6 634.0L1439.6 633.0"/><path d="M1496.3 601.9L1496.5 601.8L1498.5 600.7L1500.5 599.6L1502.5 598.5"/><path d="M1559.6 567.0L1559.9 566.9L1562.0 565.7L1564.0 564.6L1565.8 563.6"/><path d="M1622.5 532.1L1622.9 531.9L1624.9 530.8L1626.9 529.7L1628.7 528.7"/><path d="M1686.2 496.6L1686.3 496.5L1688.4 495.4L1690.4 494.2L1692.2 493.2"/><path d="M1747.9 462.0L1748.3 461.8L1750.3 460.7L1752.3 459.5L1753.9 458.6"/><path d="M1809.6 427.3L1809.7 427.3L1811.7 426.1L1813.7 425.0L1815.6 423.9"/><path d="M1873.5 391.3L1873.6 391.2L1875.7 390.1L1877.7 388.9L1879.5 387.9"/><path d="M1936.2 355.9L1936.6 355.7L1938.6 354.6L1940.7 353.4L1942.2 352.5"/><path d="M1998.4 320.9L1998.5 320.8L2000.6 319.6L2002.6 318.5L2004.4 317.4"/><path d="M2061.0 285.6L2061.5 285.3L2063.5 284.2L2065.5 283.0L2067.2 282.1"/><path d="M2124.1 250.1L2124.4 250.0L2126.4 248.8L2128.5 247.7L2130.1 246.7"/><path d="M2185.9 215.6L2186.3 215.3L2188.4 214.2L2190.4 213.0L2191.9 212.2"/><path d="M2248.6 180.6L2248.8 180.5L2250.8 179.4L2252.8 178.3L2254.6 177.3"/><path d="M2309.6 146.8L2309.7 146.8L2311.7 145.7L2313.8 144.5L2314.6 144.1"/><path d="M2327.5 136.9L2328.0 136.7L2330.0 135.6L2330.0 135.6"/></g>
<g stroke="#000" stroke-width="6" stroke-linecap="butt"><path d="M281 48.45 H2321.0" stroke-width="6.8" fill="none"/><path d="M2318.0 45.05 V1694 M281 1663.0 H2321.0" fill="none"/><line x1="314.0" y1="45.05" x2="314.0" y2="1663.0"/><path d="M298.0 1547.2 H314.0M2302.0 1547.2 H2318.0M281.0 1431.9 H314.0M2286.0 1431.9 H2318.0M298.0 1316.6 H314.0M2302.0 1316.6 H2318.0M281.0 1201.3 H314.0M2286.0 1201.3 H2318.0M298.0 1086.0 H314.0M2302.0 1086.0 H2318.0M281.0 970.8 H314.0M2286.0 970.8 H2318.0M298.0 855.5 H314.0M2302.0 855.5 H2318.0M281.0 740.2 H314.0M2286.0 740.2 H2318.0M298.0 624.9 H314.0M2302.0 624.9 H2318.0M281.0 509.6 H314.0M2286.0 509.6 H2318.0M298.0 394.3 H314.0M2302.0 394.3 H2318.0M281.0 279.0 H314.0M2286.0 279.0 H2318.0M298.0 163.7 H314.0M2302.0 163.7 H2318.0M431.0 1663.0 V1694.0M431.0 48.4 V78.9M565.8 1663.0 V1677.0M565.8 48.4 V63.4M700.6 1663.0 V1694.0M700.6 48.4 V78.9M835.4 1663.0 V1677.0M835.4 48.4 V63.4M970.1 1663.0 V1694.0M970.1 48.4 V78.9M1104.9 1663.0 V1677.0M1104.9 48.4 V63.4M1239.7 1663.0 V1694.0M1239.7 48.4 V78.9M1374.5 1663.0 V1677.0M1374.5 48.4 V63.4M1509.3 1663.0 V1694.0M1509.3 48.4 V78.9M1644.1 1663.0 V1677.0M1644.1 48.4 V63.4M1778.8 1663.0 V1694.0M1778.8 48.4 V78.9M1913.6 1663.0 V1677.0M1913.6 48.4 V63.4M2048.4 1663.0 V1694.0M2048.4 48.4 V78.9M2183.2 1663.0 V1677.0M2183.2 48.4 V63.4" fill="none"/></g>
<g font-family="Liberation Serif, serif" font-size="70" fill="#000"><text x="431.0" y="1773.7" text-anchor="middle">2</text><text x="700.6" y="1773.7" text-anchor="middle">3</text><text x="970.1" y="1773.7" text-anchor="middle">4</text><text x="1239.7" y="1773.7" text-anchor="middle">5</text><text x="1509.3" y="1773.7" text-anchor="middle">6</text><text x="1778.8" y="1773.7" text-anchor="middle">7</text><text x="2048.4" y="1773.7" text-anchor="middle">8</text><text x="2318.0" y="1773.7" text-anchor="middle">9</text><text x="261" y="1688.5" text-anchor="end">12</text><text x="261" y="1457.9" text-anchor="end">14</text><text x="261" y="1227.3" text-anchor="end">16</text><text x="261" y="996.8" text-anchor="end">18</text><text x="261" y="766.2" text-anchor="end">20</text><text x="261" y="535.6" text-anchor="end">22</text><text x="261" y="305.0" text-anchor="end">24</text><text x="261" y="74.4" text-anchor="end">26</text></g>
<text transform="translate(97,1311) rotate(-90)" font-family="Liberation Serif, serif" font-size="86" letter-spacing="-0.75">Seepage volume <tspan font-style="italic">q</tspan> (m<tspan font-size="54" dy="-37">3</tspan><tspan dy="37">/(s·m))</tspan></text><text x="1264" y="1890" font-family="Liberation Serif, serif" font-size="86" font-style="italic">h/r</text>
</svg>
</body></html>
